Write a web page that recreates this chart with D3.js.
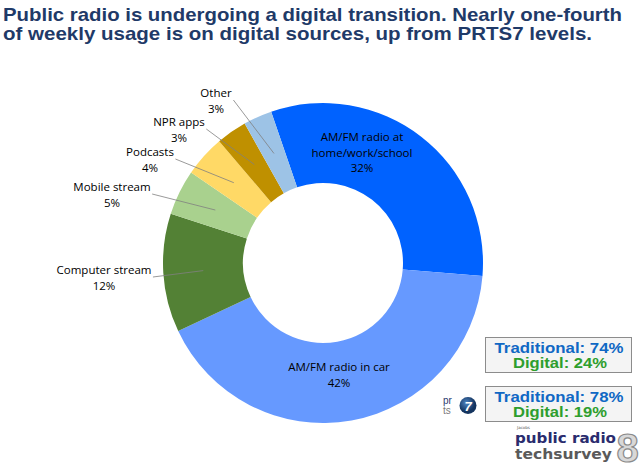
<!DOCTYPE html>
<html>
<head>
<meta charset="utf-8">
<script src="https://cdn.jsdelivr.net/npm/d3@7"></script>
<style>
  html, body { margin: 0; padding: 0; background: #fff; }
  svg { display: block; }
</style>
</head>
<body>
<svg id="chart" width="640" height="469"></svg>
<script>
// ---- data ----
const categories = ["AM/FM radio at home/work/school", "AM/FM radio in car", "Computer stream",
                    "Mobile stream", "Podcasts", "NPR apps", "Other"];
const labelLines = [["AM/FM radio at", "home/work/school"], ["AM/FM radio in car"], ["Computer stream"],
                    ["Mobile stream"], ["Podcasts"], ["NPR apps"], ["Other"]];
const shares = [31.6, 41.8, 12.0, 4.6, 4.2, 3.1, 2.9];
const colors = ["#0062FF", "#6699FF", "#538135", "#A9D18E", "#FFD966", "#BF9000", "#9DC3E6"];
const titleLines = ["Public radio is undergoing a digital transition. Nearly one-fourth",
                    "of weekly usage is on digital sources, up from PRTS7 levels."];
const summaryNow = [["Traditional", 74], ["Digital", 24]];
const summaryPrev = [["Traditional", 78], ["Digital", 19]];

// ---- layout ----
const W = 640, H = 469;
const cx = 323, cy = 263, R = 160, r0 = 80;
const startDeg = -18.9;
const titleWidths = [619, 589];
const labelPos = [
  {inside: true, x: 362, y: 137},
  {inside: true, x: 339, y: 367},
  {x: 104, y: 270},
  {x: 112, y: 187},
  {x: 150, y: 152},
  {x: 179, y: 122},
  {x: 216, y: 93}
];

const svg = d3.select("#chart");
const font = "'Open Sans', 'Liberation Sans', sans-serif";
const arial = "'Liberation Sans', Arial, sans-serif";

// title
svg.append("g").selectAll("text").data(titleLines).join("text")
  .attr("x", 3).attr("y", (d, i) => 20.5 + i * 19.5)
  .attr("font-family", arial)
  .attr("font-weight", "bold").attr("font-size", 19)
  .attr("fill", "#1F3A68")
  .attr("textLength", (d, i) => titleWidths[i]).attr("lengthAdjust", "spacingAndGlyphs")
  .text(d => d);

const pie = d3.pie().sort(null).value(d => d)
  .startAngle(startDeg * Math.PI / 180)
  .endAngle(startDeg * Math.PI / 180 + 2 * Math.PI);
const arcs = pie(shares);
const arc = d3.arc().innerRadius(r0).outerRadius(R);

const g = svg.append("g").attr("transform", `translate(${cx},${cy})`);
g.selectAll("path").data(arcs).join("path")
  .attr("d", arc)
  .attr("fill", (d, i) => colors[i]);

// labels
const lg = svg.append("g").attr("font-family", font).attr("font-size", 11.5).attr("fill", "#000");
arcs.forEach((a, i) => {
  const lp = labelPos[i];
  const lines = labelLines[i].concat([Math.round(shares[i]) + "%"]);
  const t = lg.append("text").attr("text-anchor", "middle");
  lines.forEach((ln, k) => {
    t.append("tspan").attr("x", lp.x).attr("y", lp.y + 4 + k * 15.5).text(ln);
  });
  if (!lp.inside) {
    const bb = t.node().getBBox();
    const c = arc.centroid(a);
    lg.append("line")
      .attr("x1", bb.x + bb.width + 1.5).attr("y1", lp.y + 7)
      .attr("x2", cx + c[0]).attr("y2", cy + c[1])
      .attr("stroke", "#808080").attr("stroke-width", 0.8);
  }
});

// summary boxes
function box(y, data) {
  const bg = svg.append("g").attr("font-family", arial).attr("font-weight", "bold")
    .attr("font-size", 15).attr("text-anchor", "middle");
  bg.append("rect").attr("x", 485.5).attr("y", y + 0.5).attr("width", 146).attr("height", 35)
    .attr("fill", "#F4F4F4").attr("stroke", "#8C8C8C").attr("stroke-width", 1);
  bg.append("text").attr("x", 559).attr("y", y + 15.5)
    .attr("fill", "#1068C4").attr("textLength", 129).attr("lengthAdjust", "spacingAndGlyphs")
    .text(`${data[0][0]}: ${data[0][1]}%`);
  bg.append("text").attr("x", 560).attr("y", y + 31)
    .attr("fill", "#2E9E2E").attr("textLength", 94).attr("lengthAdjust", "spacingAndGlyphs")
    .text(`${data[1][0]}: ${data[1][1]}%`);
}
box(337, summaryNow);
box(386, summaryPrev);

// prts7 logo
const pl = svg.append("g").attr("font-family", arial);
pl.append("text").attr("x", 443).attr("y", 403.5).attr("font-size", 10).attr("fill", "#2B3A6E").text("pr");
pl.append("text").attr("x", 443).attr("y", 413.5).attr("font-size", 10).attr("fill", "#7A7A7A").text("ts");
const grad = svg.append("defs").append("radialGradient").attr("id", "g7").attr("cx", "40%").attr("cy", "35%");
grad.append("stop").attr("offset", "0%").attr("stop-color", "#4F86C6");
grad.append("stop").attr("offset", "100%").attr("stop-color", "#14345F");
pl.append("circle").attr("cx", 468).attr("cy", 405.5).attr("r", 8.5).attr("fill", "url(#g7)");
pl.append("text").attr("x", 468).attr("y", 410.5).attr("text-anchor", "middle").attr("font-size", 13)
  .attr("font-weight", "bold").attr("font-style", "italic").attr("fill", "#fff").text("7");

// techsurvey logo
const tl = svg.append("g").attr("font-family", "'DejaVu Sans', sans-serif");
tl.append("text").attr("x", 517).attr("y", 428.5).attr("font-size", 4).attr("fill", "#555").text("Jacobs");
tl.append("text").attr("x", 515).attr("y", 443).attr("font-size", 14).attr("font-weight", "bold")
  .attr("fill", "#2A2C6E").attr("textLength", 101).attr("lengthAdjust", "spacingAndGlyphs").text("public radio");
tl.append("text").attr("x", 515).attr("y", 459).attr("font-size", 14).attr("font-weight", "bold")
  .attr("fill", "#5A5A5A").attr("textLength", 97).attr("lengthAdjust", "spacingAndGlyphs").text("techsurvey");
tl.append("text").attr("x", 627.5).attr("y", 462).attr("text-anchor", "middle").attr("font-size", 40)
  .attr("font-family", arial).attr("font-weight", "bold")
  .attr("fill", "#D8D8D8").attr("stroke", "#8A8A8A").attr("stroke-width", 1.2).text("8");
</script>
</body>
</html>
